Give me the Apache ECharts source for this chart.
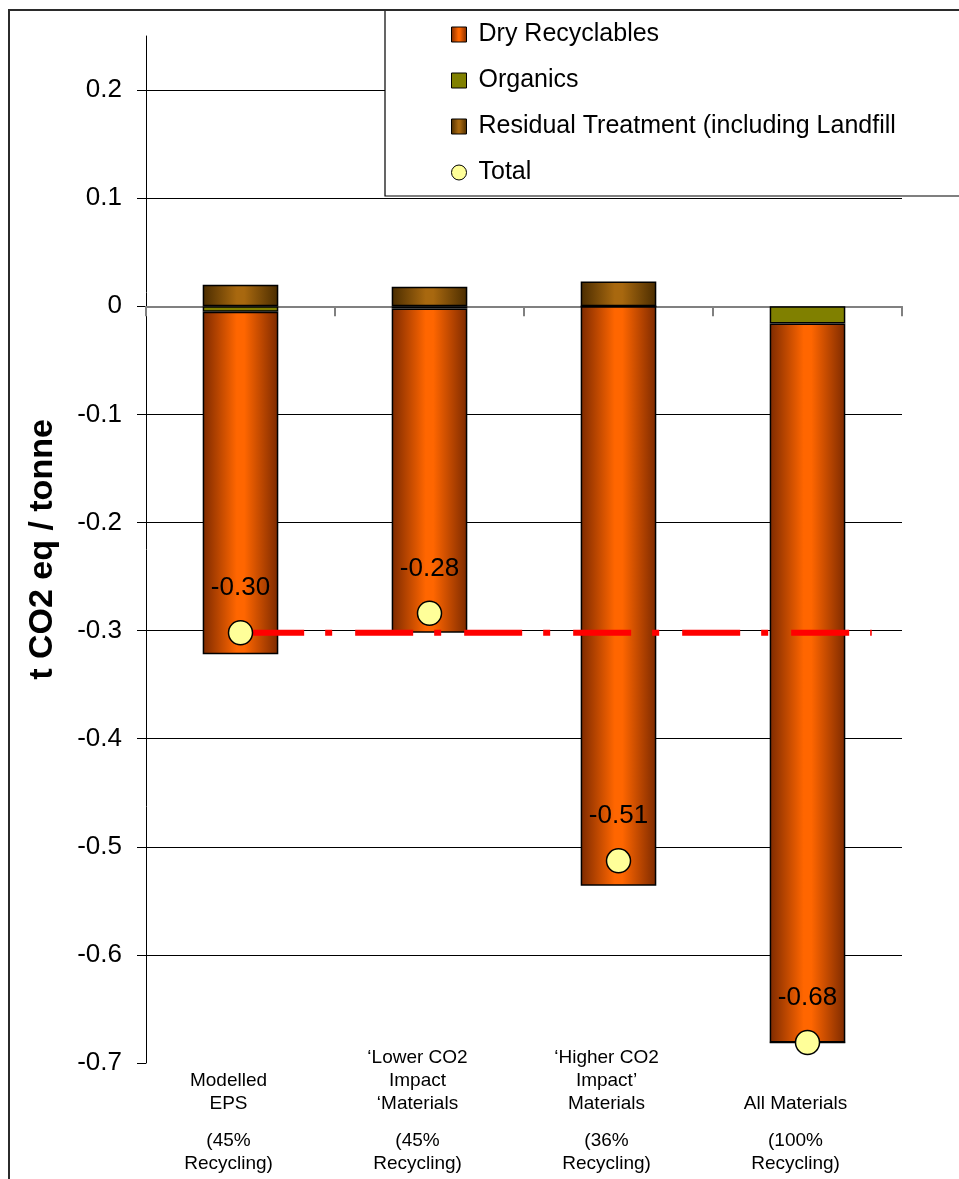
<!DOCTYPE html>
<html>
<head>
<meta charset="utf-8">
<title>t CO2 eq / tonne by scenario</title>
<script src="https://cdn.jsdelivr.net/npm/echarts@6/dist/echarts.min.js"></script>
<style>
  html, body { margin: 0; padding: 0; background: #ffffff; }
  #chart { width: 959px; height: 1179px; }
</style>
</head>
<body>
<div id="chart"></div>
<script>
// Scenario names (upper part of each axis label) and recycling share (lower part)
const scenarioNames = [
  'Modelled\nEPS',
  '\u2018Lower CO2\nImpact\n\u2018Materials',
  '\u2018Higher CO2\nImpact\u2019\nMaterials',
  'All Materials'
];
const recyclingShares = [
  '(45%\nRecycling)',
  '(45%\nRecycling)',
  '(36%\nRecycling)',
  '(100%\nRecycling)'
];

// Emissions per stream, t CO2 eq / tonne
const dryRecyclables    = [-0.317, -0.300, -0.536, -0.665];
const organics          = [-0.005, -0.002,  0.000, -0.016];
const residualTreatment = [ 0.020,  0.018,  0.023,  0.000];

// Net total per scenario
const totals = dryRecyclables.map((d, i) => +(d + organics[i] + residualTreatment[i]).toFixed(3));

// Y-axis ticks
const yTicks = [-0.7, -0.6, -0.5, -0.4, -0.3, -0.2, -0.1, 0, 0.1, 0.2];

// Reference line at the modelled EPS total, spanning these positions on the category scale
const benchmarkSpan = [0.53, 3.84];

const seriesNames = {
  dry: 'Dry Recyclables',
  org: 'Organics',
  res: 'Residual Treatment (including Landfill',
  tot: 'Total'
};

const FONT = '"Liberation Sans", Arial, sans-serif';

function cylinder(edge, mid) {
  return new echarts.graphic.LinearGradient(0, 0, 1, 0, [
    { offset: 0, color: edge },
    { offset: 0.45, color: mid },
    { offset: 0.55, color: mid },
    { offset: 1, color: edge }
  ]);
}

const chart = echarts.init(document.getElementById('chart'), null, { renderer: 'canvas' });

const barBorder = { borderColor: '#000000', borderWidth: 1.5 };

chart.setOption({
  animation: false,
  backgroundColor: '#ffffff',
  textStyle: { fontFamily: FONT },
  graphic: [{
    type: 'rect',
    z: 100,
    silent: true,
    shape: { x: 9, y: 10, width: 1000, height: 1300 },
    style: { fill: null, stroke: '#2b2b2b', lineWidth: 2 }
  }],
  legend: {
    left: 385,
    top: 10,
    orient: 'vertical',
    data: [
      { name: seriesNames.dry, icon: 'rect' },
      { name: seriesNames.org, icon: 'rect' },
      { name: seriesNames.res, icon: 'rect' },
      { name: seriesNames.tot, icon: 'circle' }
    ],
    backgroundColor: '#ffffff',
    borderColor: '#000000',
    borderWidth: 1.2,
    padding: [12, 80, 11, 66],
    itemGap: 21,
    itemWidth: 15,
    itemHeight: 15,
    itemStyle: { borderColor: '#000000', borderWidth: 1 },
    textStyle: { fontSize: 25, color: '#000000', fontFamily: FONT, padding: [0, 0, 0, 7] }
  },
  grid: { left: 146, right: 57, top: 36, bottom: 116, containLabel: false, outerBoundsMode: 'none' },
  xAxis: [
    {
      type: 'category',
      data: scenarioNames,
      z: 1,
      axisLine: { onZero: true, lineStyle: { color: '#808080', width: 2 } },
      axisTick: { show: true, length: 10, inside: false, lineStyle: { color: '#808080', width: 2 } },
      axisLabel: { show: false },
      splitLine: { show: false }
    },
    {
      type: 'category',
      data: scenarioNames,
      position: 'bottom',
      axisLine: { show: false, onZero: false },
      axisTick: { show: false },
      splitLine: { show: false },
      axisLabel: {
        show: true,
        interval: 0,
        margin: 112,
        verticalAlign: 'bottom',
        align: 'center',
        color: '#000000',
        fontSize: 19,
        lineHeight: 23,
        fontFamily: FONT,
        padding: [0, 24, 0, 0],
        formatter: (v, i) => v + '\n{gap| }\n' + recyclingShares[i],
        rich: { gap: { fontSize: 6, lineHeight: 14 } }
      }
    },
    {
      type: 'value',
      min: 0,
      max: 4,
      show: false
    }
  ],
  yAxis: {
    type: 'value',
    min: -0.7,
    max: 0.25,
    interval: 0.1,
    z: 0,
    name: 't CO2 eq / tonne',
    nameLocation: 'middle',
    nameGap: 86,
    nameRotate: 90,
    nameTextStyle: { fontSize: 34, fontWeight: 'bold', color: '#000000', fontFamily: FONT },
    axisLine: { show: true, lineStyle: { color: '#000000', width: 1 } },
    axisTick: { show: true, length: 9, lineStyle: { color: '#000000', width: 1 }, customValues: yTicks },
    axisLabel: {
      fontSize: 26,
      color: '#000000',
      margin: 24,
      fontFamily: FONT,
      customValues: yTicks,
      formatter: v => String(+(+v).toFixed(1))
    },
    splitLine: {
      show: true,
      showMinLine: false,
      showMaxLine: true,
      lineStyle: { color: '#000000', width: 1 }
    }
  },
  series: [
    {
      name: seriesNames.org,
      type: 'bar',
      stack: 'streams',
      barWidth: '40%',
      data: organics,
      itemStyle: Object.assign({ color: '#808000' }, barBorder)
    },
    {
      name: seriesNames.dry,
      type: 'bar',
      stack: 'streams',
      barWidth: '40%',
      data: dryRecyclables,
      itemStyle: Object.assign({ color: cylinder('#7d2a00', '#ff6600') }, barBorder)
    },
    {
      name: seriesNames.res,
      type: 'bar',
      stack: 'streams',
      barWidth: '40%',
      data: residualTreatment,
      itemStyle: Object.assign({ color: cylinder('#4a2c00', '#a8680f') }, barBorder)
    },
    {
      name: 'benchmark',
      type: 'line',
      xAxisIndex: 2,
      yAxisIndex: 0,
      z: 4,
      symbol: 'none',
      silent: true,
      data: benchmarkSpan.map(x => [x, totals[0]]),
      lineStyle: { color: '#ff0000', width: 6, type: [58, 21, 7, 23], cap: 'butt' }
    },
    {
      name: seriesNames.tot,
      type: 'scatter',
      xAxisIndex: 0,
      yAxisIndex: 0,
      z: 5,
      symbol: 'circle',
      symbolSize: 24,
      data: totals,
      itemStyle: { color: '#ffff99', borderColor: '#000000', borderWidth: 1.5, opacity: 1 },
      label: {
        show: true,
        position: 'top',
        distance: 19,
        fontSize: 26,
        color: '#000000',
        fontFamily: FONT,
        formatter: p => p.value.toFixed(2)
      }
    }
  ]
});
</script>
</body>
</html>
